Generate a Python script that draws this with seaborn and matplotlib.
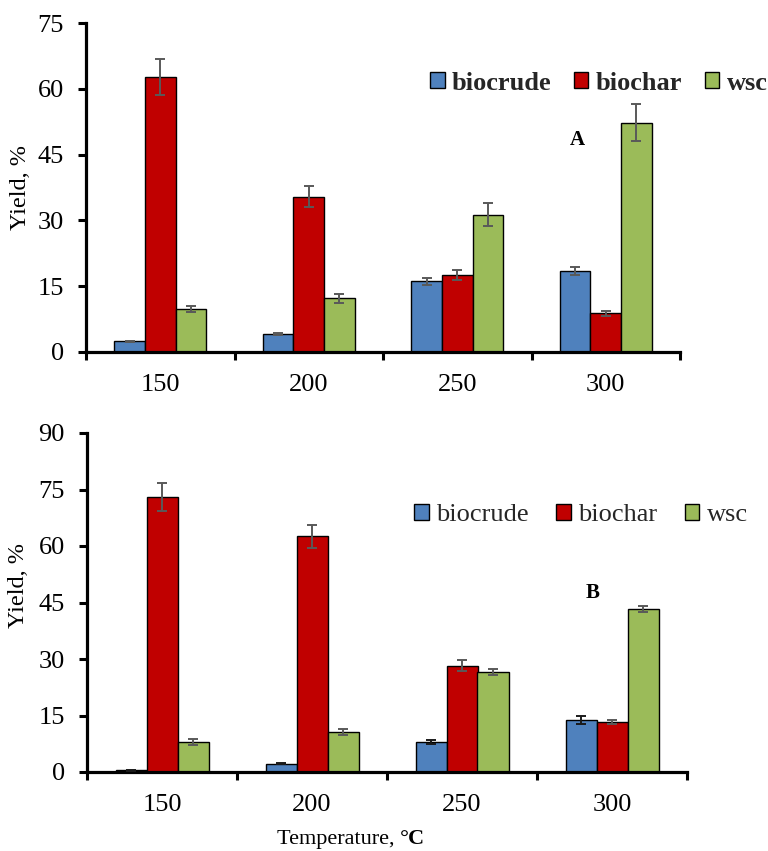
import matplotlib
matplotlib.use("Agg")
import matplotlib.pyplot as plt
import seaborn as sns
import pandas as pd
from matplotlib.patches import Patch

# ---- data -------------------------------------------------------------
temperatures = ["150", "200", "250", "300"]
products = ["biocrude", "biochar", "wsc"]

# Panel A
biocrude_a = [2.4, 4.1, 16.1, 18.5]
biochar_a = [62.6, 35.4, 17.5, 8.8]
wsc_a = [9.9, 12.2, 31.3, 52.3]
biocrude_a_err = [0.2, 0.3, 0.8, 0.9]
biochar_a_err = [4.1, 2.4, 1.2, 0.6]
wsc_a_err = [0.7, 1.0, 2.6, 4.3]

# Panel B
biocrude_b = [0.4, 2.2, 8.0, 13.8]
biochar_b = [73.0, 62.6, 28.2, 13.3]
wsc_b = [8.0, 10.7, 26.5, 43.3]
biocrude_b_err = [0.1, 0.2, 0.6, 1.0]
biochar_b_err = [3.7, 3.1, 1.5, 0.6]
wsc_b_err = [0.8, 0.8, 0.8, 0.9]

colors = ["#4F81BD", "#C00000", "#9BBB59"]

sns.set_theme(style="white")
plt.rcParams["font.family"] = ["Liberation Serif", "DejaVu Serif"]
plt.rcParams["axes.unicode_minus"] = False

fig = plt.figure(figsize=(7.68, 8.51), dpi=100)
W, H = 768.0, 851.0


def px_axes(left, top, right, bottom):
    return fig.add_axes([left / W, 1 - bottom / H, (right - left) / W, (bottom - top) / H])


def long_frame(series):
    rows = []
    for name, vals in zip(products, series):
        for t, v in zip(temperatures, vals):
            rows.append({"Temperature": t, "Product": name, "Yield": v})
    return pd.DataFrame(rows)


def draw_panel(ax, series, errors, ecolors, ymax, yticks):
    df = long_frame(series)
    sns.barplot(data=df, x="Temperature", y="Yield", hue="Product",
                order=temperatures, hue_order=products, palette=colors,
                width=0.62, errorbar=None, edgecolor="black", linewidth=1.0,
                saturation=1.0, legend=False, ax=ax)
    for cont, vals, errs, ec in zip(ax.containers, series, errors, ecolors):
        xs = [b.get_x() + b.get_width() / 2 for b in cont]
        ax.errorbar(xs, vals, yerr=errs, fmt="none", ecolor=ec,
                    elinewidth=1.4, capsize=3.5, capthick=1.4, zorder=5)
    ax.set_xlim(-0.5, 3.5)
    ax.set_ylim(0, ymax)
    ax.set_yticks(yticks)
    ax.set_yticklabels([str(v) for v in yticks])
    # boundary ticks between categories, labels at category centres
    ax.set_xticks([-0.5, 0.5, 1.5, 2.5, 3.5])
    ax.set_xticklabels([])
    ax.set_xticks(range(len(temperatures)), minor=True)
    ax.set_xticklabels(temperatures, minor=True)
    ax.tick_params(axis="x", which="major", direction="out", length=6,
                   width=2.2, color="black", bottom=True)
    ax.tick_params(axis="x", which="minor", length=0, pad=16,
                   labelsize=19, labelcolor="black")
    ax.tick_params(axis="y", direction="out", length=6, width=2.2,
                   color="black", left=True, pad=10, labelsize=19,
                   labelcolor="black")
    for s in ["top", "right"]:
        ax.spines[s].set_visible(False)
    for s in ["left", "bottom"]:
        ax.spines[s].set_linewidth(2.3)
        ax.spines[s].set_color("black")
    ax.set_xlabel("")
    ax.set_ylabel("")
    ax.grid(False)


handles = [Patch(facecolor=c, edgecolor="black", linewidth=1.0) for c in colors]

# ---- panel A ----------------------------------------------------------
ax_a = px_axes(86, 23, 680, 352)
draw_panel(ax_a, [biocrude_a, biochar_a, wsc_a],
           [biocrude_a_err, biochar_a_err, wsc_a_err],
           ["#595959", "#595959", "#595959"], 75, [0, 15, 30, 45, 60, 75])
fig.legend(handles, products, loc="center left",
           bbox_to_anchor=(430 / W, 1 - 83 / H), ncol=3, frameon=False,
           borderpad=0, borderaxespad=0, handlelength=0.55, handleheight=0.55,
           handletextpad=0.28, columnspacing=0.85,
           prop={"family": "Liberation Serif", "weight": "bold", "size": 19})
fig.text(577 / W, 1 - 140 / H, "A", ha="center", va="center",
         fontsize=15, fontweight="bold", color="black")
fig.text(21 / W, 1 - 187 / H, "Yield, %", rotation=90, ha="center",
         va="center", fontsize=17.5, color="black")

# ---- panel B ----------------------------------------------------------
ax_b = px_axes(87, 433, 687, 772)
draw_panel(ax_b, [biocrude_b, biochar_b, wsc_b],
           [biocrude_b_err, biochar_b_err, wsc_b_err],
           ["#1a1a1a", "#595959", "#595959"], 90, [0, 15, 30, 45, 60, 75, 90])
fig.legend(handles, products, loc="center left",
           bbox_to_anchor=(414 / W, 1 - 515 / H), ncol=3, frameon=False,
           borderpad=0, borderaxespad=0, handlelength=0.55, handleheight=0.55,
           handletextpad=0.28, columnspacing=1.05,
           prop={"family": "Liberation Serif", "size": 19})
fig.text(593 / W, 1 - 593 / H, "B", ha="center", va="center",
         fontsize=15, fontweight="bold", color="black")
fig.text(19 / W, 1 - 586 / H, "Yield, %", rotation=90, ha="center",
         va="center", fontsize=17.5, color="black")

# x-axis title: plain text followed by a bold unit
t1 = fig.text(277 / W, 1 - 844 / H, "Temperature, ", ha="left",
              va="baseline", fontsize=16, color="black")
fig.canvas.draw()
bb = t1.get_window_extent()
fig.text(bb.x1 / W, 1 - 844 / H, "°C", ha="left", va="baseline",
         fontsize=16, fontweight="bold", color="black")

fig.savefig("out.png", dpi=100)
